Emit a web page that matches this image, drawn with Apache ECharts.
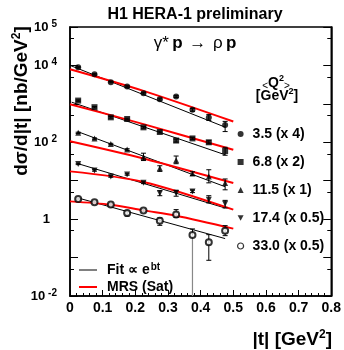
<!DOCTYPE html>
<html>
<head>
<meta charset="utf-8">
<script src="https://cdn.jsdelivr.net/npm/echarts@6/dist/echarts.min.js"></script>
<style>
  html, body { margin: 0; padding: 0; background: #fff; }
  #chart { width: 344px; height: 350px; }
</style>
</head>
<body>
<div id="chart"></div>
<script>
// |t| bin centres [GeV^2]
const tBins = [0.025, 0.075, 0.125, 0.175, 0.225, 0.275, 0.325, 0.375, 0.425, 0.475];

// Legend labels for the <Q^2> bins (with display scale factors)
const binLabels = ['3.5 (x 4)', '6.8 (x 2)', '11.5 (x 1)', '17.4 (x 0.5)', '33.0 (x 0.5)'];

// dsigma/d|t| as plotted (already multiplied by the scale factor) [nb/GeV^2]
const xsQ1 = [8980, 5900, 3660, 2810, 1900, 1325, 1548, 698, 441, 280];
const xsQ2 = [1218, 820, 446, 403, 245, 185, 111, 126, 100, 59.4];
const xsQ3 = [176.5, 125, 90.3, 65, 41.5, 21, 34, 15.3, 12.9, 8.7];
const xsQ4 = [27.3, 18.5, 12.9, 14.5, 8.87, 4.71, 4.8, 5.27, 3.21, 2.50];
const xsQ5 = [3.35, 2.77, 2.42, 1.45, 1.68, 0.914, 1.33, 0.384, 0.249, 0.502];

// Error bar limits (null = lower edge falls below the axis range)
const loQ1 = [8700, 5700, 3520, 2690, 1810, 1250, 1470, 640, 370, 190];
const hiQ1 = [9260, 6100, 3800, 2930, 1990, 1400, 1630, 760, 525, 350];
const loQ2 = [1170, 785, 425, 383, 232, 174, 101, 117, 91, 46];
const hiQ2 = [1265, 855, 468, 423, 258, 196, 121, 135, 110, 74];
const loQ3 = [170, 120, 86.5, 62, 33.5, 17.5, 27.7, 13.7, 8.8, 5.8];
const hiQ3 = [183, 130, 94, 68, 52, 24.5, 43.9, 17.1, 19.3, 11.1];
const loQ4 = [26.2, 17.7, 12.3, 13.9, 8.4, 4.07, 3.95, 4.9, 2.64, 1.95];
const hiQ4 = [28.4, 19.3, 13.5, 15.1, 9.3, 5.5, 5.66, 5.7, 4.07, 3.08];
const loQ5 = [3.2, 2.65, 2.3, 1.2, 1.58, 0.69, 1.11, null, 0.085, 0.372];
const hiQ5 = [3.5, 2.9, 2.55, 1.62, 1.79, 1.07, 1.77, 0.556, 0.395, 0.677];

// Exponential fits (end points of each straight line on the log scale)
const fitQ1 = [[0.002, 9880], [0.475, 248]];
const fitQ2 = [[0.005, 1107], [0.475, 47.3]];
const fitQ3 = [[0.025, 187.5], [0.475, 6.98]];
const fitQ4 = [[0.025, 27.7], [0.475, 1.95]];
const fitQ5 = [[0.025, 3.55], [0.475, 0.312]];

// MRS (Sat) model curves
const mrsQ1 = [[0, 7960], [0.225, 2177], [0.5, 347]];
const mrsQ2 = [[0, 982], [0.225, 297], [0.5, 63.8]];
const mrsQ3 = [[0, 107], [0.225, 38], [0.5, 8.7]];
const mrsQ4 = [[0, 17.5], [0.225, 9.3], [0.5, 1.77]];
const mrsQ5 = [[0, 2.90], [0.125, 2.38], [0.225, 1.69], [0.325, 1.23], [0.5, 0.566]];

// Axis tick values
const yMajorLabels = [1e5, 1e4, 1e2, 1, 1e-2];
const yMajorTicks = [1e5, 1e4, 1e3, 1e2, 10, 1, 0.1, 0.01];
const yMinorTicks = [5e4, 5e3, 500, 50, 5, 0.5, 0.05];
const xTickLabels = ['0', '0.1', '0.2', '0.3', '0.4', '0.5', '0.6', '0.7', '0.8'];

const FONT = "'Liberation Sans', Arial, Helvetica, sans-serif";
const Y_MIN = 0.01, Y_MAX = 1e5;

const xsAll = [xsQ1, xsQ2, xsQ3, xsQ4, xsQ5];
const loAll = [loQ1, loQ2, loQ3, loQ4, loQ5];
const hiAll = [hiQ1, hiQ2, hiQ3, hiQ4, hiQ5];
const fitAll = [fitQ1, fitQ2, fitQ3, fitQ4, fitQ5];
const mrsAll = [mrsQ1, mrsQ2, mrsQ3, mrsQ4, mrsQ5];

const invTriangle = 'path://M0,0 L10,0 L5,9 Z';
const symbols = ['circle', 'rect', 'triangle', invTriangle, 'emptyCircle'];

const chart = echarts.init(document.getElementById('chart'), null, { renderer: 'canvas' });

function renderErrorBar(params, api) {
  const t = api.value(0);
  const hi = api.value(2);
  const v = api.value(3);
  const open = api.value(4) === 1;
  const lo = open ? Y_MIN : api.value(1);
  const pHi = api.coord([t, hi]);
  const pLo = api.coord([t, lo]);
  const pV = api.coord([t, v]);
  const cap = 2.5;
  const black = { stroke: '#000', lineWidth: 1 };
  const kids = [];
  if (open) {
    kids.push({ type: 'line', shape: { x1: pHi[0], y1: pHi[1], x2: pV[0], y2: pV[1] }, style: black });
    kids.push({ type: 'line', shape: { x1: pV[0], y1: pV[1], x2: pLo[0], y2: pLo[1] }, style: { stroke: '#888', lineWidth: 1.2 } });
    kids.push({ type: 'line', shape: { x1: pHi[0] - cap, y1: pHi[1], x2: pHi[0] + cap, y2: pHi[1] }, style: black });
  } else {
    kids.push({ type: 'line', shape: { x1: pHi[0], y1: pHi[1], x2: pLo[0], y2: pLo[1] }, style: black });
    kids.push({ type: 'line', shape: { x1: pHi[0] - cap, y1: pHi[1], x2: pHi[0] + cap, y2: pHi[1] }, style: black });
    kids.push({ type: 'line', shape: { x1: pLo[0] - cap, y1: pLo[1], x2: pLo[0] + cap, y2: pLo[1] }, style: black });
  }
  return { type: 'group', children: kids };
}

const series = [];
for (let i = 0; i < 5; i++) {
  series.push({
    name: 'mrs', type: 'line', data: mrsAll[i], smooth: 0.3, symbol: 'none',
    lineStyle: { color: '#ff0000', width: 2 }, itemStyle: { color: '#ff0000' }, z: 3, silent: true
  });
  series.push({
    name: 'fit', type: 'line', data: fitAll[i], symbol: 'none',
    lineStyle: { color: '#000', width: 1 }, itemStyle: { color: '#000' }, z: 2, silent: true
  });
  series.push({
    type: 'custom', renderItem: renderErrorBar, z: 4, silent: true,
    data: tBins.map((t, k) => [t, loAll[i][k] == null ? Y_MIN : loAll[i][k], hiAll[i][k], xsAll[i][k], loAll[i][k] == null ? 1 : 0]),
    encode: { x: 0, y: 3 }
  });
  series.push({
    name: binLabels[i], type: 'scatter', data: tBins.map((t, k) => [t, xsAll[i][k]]),
    symbol: symbols[i], symbolSize: 6,
    itemStyle: i === 4 ? { color: '#000', borderColor: '#000', borderWidth: 1.3 } : { color: '#000' },
    z: 5, silent: true
  });
}

const yAxisBase = {
  type: 'log', logBase: 10, min: Y_MIN, max: Y_MAX, gridIndex: 0,
  splitLine: { show: false }
};

const legendText = {
  fontFamily: FONT, fontWeight: 'bold', fontSize: 14, color: '#000', padding: [0, 0, 0, 5], lineHeight: 16,
  rich: {
    s: { fontFamily: FONT, fontWeight: 'bold', fontSize: 10, color: '#000', verticalAlign: 'top', padding: [0, 0, 8, 1] }
  }
};

const option = {
  animation: false,
  backgroundColor: '#fff',
  grid: { left: 70, right: 12, top: 27, bottom: 54, show: true, borderColor: '#000', borderWidth: 1.5, backgroundColor: 'transparent' },
  xAxis: [{
    type: 'value', min: 0, max: 0.8, interval: 0.1,
    axisLine: { show: true, lineStyle: { color: '#000', width: 1.5 } },
    axisTick: { show: true, inside: true, length: 6, lineStyle: { color: '#000' } },
    minorTick: { show: true, splitNumber: 5, length: 3, lineStyle: { color: '#000' } },
    splitLine: { show: false },
    axisLabel: {
      margin: 5, fontFamily: FONT, fontWeight: 'bold', fontSize: 14, color: '#000',
      formatter: v => xTickLabels[Math.round(v * 10)]
    }
  }],
  yAxis: [
    Object.assign({}, yAxisBase, {
      position: 'left',
      axisLine: { show: true, lineStyle: { color: '#000', width: 1.5 } },
      axisTick: { show: true, inside: true, length: 8, customValues: yMajorTicks, lineStyle: { color: '#000' } },
      axisLabel: {
        customValues: yMajorLabels, margin: 13, color: '#000',
        formatter: v => {
          const e = Math.round(Math.log10(v));
          return e === 0 ? '{one|1}' : '{b|10}{s|' + e + '}';
        },
        rich: {
          b: { fontFamily: FONT, fontWeight: 'bold', fontSize: 13, color: '#000' },
          s: { fontFamily: FONT, fontWeight: 'bold', fontSize: 10, color: '#000', verticalAlign: 'top', padding: [0, 0, 6, 3] },
          one: { fontFamily: FONT, fontWeight: 'bold', fontSize: 13, color: '#000', padding: [0, 7, 0, 0] }
        }
      }
    }),
    Object.assign({}, yAxisBase, {
      position: 'left',
      axisLine: { show: false },
      axisTick: { show: true, inside: true, length: 4, customValues: yMinorTicks, lineStyle: { color: '#000' } },
      axisLabel: { show: false }
    }),
    Object.assign({}, yAxisBase, {
      position: 'right',
      axisLine: { show: true, lineStyle: { color: '#000', width: 1.5 } },
      axisTick: { show: true, inside: true, length: 8, customValues: yMajorTicks, lineStyle: { color: '#000' } },
      axisLabel: { show: false }
    }),
    Object.assign({}, yAxisBase, {
      position: 'right',
      axisLine: { show: false },
      axisTick: { show: true, inside: true, length: 4, customValues: yMinorTicks, lineStyle: { color: '#000' } },
      axisLabel: { show: false }
    })
  ],
  legend: [
    {
      data: [{ name: 'fit', icon: 'rect' }], left: 79, top: 262, padding: 0,
      itemWidth: 18, itemHeight: 1, selectedMode: false,
      formatter: () => 'Fit ∝ e{s|bt}',
      textStyle: legendText
    },
    {
      data: [{ name: 'mrs', icon: 'rect' }], left: 79, top: 279, padding: 0,
      itemWidth: 18, itemHeight: 2, selectedMode: false,
      formatter: () => 'MRS (Sat)',
      textStyle: legendText
    },
    {
      data: binLabels.map((n, i) => i === 4
        ? { name: n, icon: 'circle', itemStyle: { color: '#fff', borderColor: '#000', borderWidth: 1.2 } }
        : { name: n }),
      orient: 'vertical', left: 237, top: 126, padding: 0,
      itemWidth: 6, itemHeight: 6, itemGap: 12, selectedMode: false,
      textStyle: { fontFamily: FONT, fontWeight: 'bold', fontSize: 14, color: '#000', padding: [0, 0, 0, 4], lineHeight: 16 }
    }
  ],
  graphic: [
    {
      type: 'text', x: 195, y: 15,
      style: {
        text: 'H1 HERA-1 preliminary', align: 'center', verticalAlign: 'middle',
        fontFamily: FONT, fontWeight: 'bold', fontSize: 16, fill: '#000'
      }
    },
    {
      type: 'text', x: 195, y: 43,
      style: {
        text: '{g|γ*} {p|p}  {g|→}  {g|ρ} {p|p}', align: 'center', verticalAlign: 'middle',
        rich: {
          g: { fontFamily: FONT, fontSize: 17, fill: '#000' },
          p: { fontFamily: FONT, fontWeight: 'bold', fontSize: 17, fill: '#000' }
        }
      }
    },
    {
      type: 'text', x: 276, y: 83,
      style: {
        text: '{a|<}{q|Q}{s|2}{a|>}', align: 'center', verticalAlign: 'middle',
        rich: {
          a: { fontFamily: FONT, fontSize: 10, fill: '#000', verticalAlign: 'bottom' },
          q: { fontFamily: FONT, fontWeight: 'bold', fontSize: 14, fill: '#000' },
          s: { fontFamily: FONT, fontWeight: 'bold', fontSize: 9, fill: '#000', verticalAlign: 'top', padding: [0, 0, 8, 0] }
        }
      }
    },
    {
      type: 'text', x: 277, y: 96,
      style: {
        text: '[GeV{s|2}]', align: 'center', verticalAlign: 'middle',
        fontFamily: FONT, fontWeight: 'bold', fontSize: 14, fill: '#000',
        rich: {
          s: { fontFamily: FONT, fontWeight: 'bold', fontSize: 9, fill: '#000', verticalAlign: 'top', padding: [0, 0, 8, 0] }
        }
      }
    },
    {
      type: 'text', x: 22, y: 101, rotation: Math.PI / 2,
      style: {
        text: 'dσ/d|t| [nb/GeV{s|2}]', align: 'center', verticalAlign: 'middle',
        fontFamily: FONT, fontWeight: 'bold', fontSize: 19, fill: '#000',
        rich: {
          s: { fontFamily: FONT, fontWeight: 'bold', fontSize: 12, fill: '#000', verticalAlign: 'top', padding: [0, 0, 10, 0] }
        }
      }
    },
    {
      type: 'text', x: 332, y: 340,
      style: {
        text: '|t| [GeV{s|2}]', align: 'right', verticalAlign: 'middle',
        fontFamily: FONT, fontWeight: 'bold', fontSize: 19, fill: '#000',
        rich: {
          s: { fontFamily: FONT, fontWeight: 'bold', fontSize: 12, fill: '#000', verticalAlign: 'top', padding: [0, 0, 10, 0] }
        }
      }
    }
  ],
  series: series
};

chart.setOption(option);
</script>
</body>
</html>
